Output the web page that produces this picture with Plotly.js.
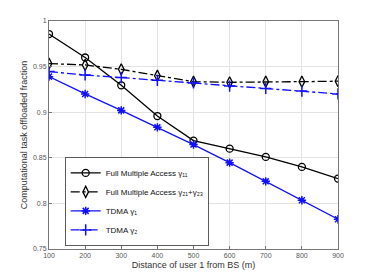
<!DOCTYPE html>
<html><head><meta charset="utf-8">
<script src="https://cdn.plot.ly/plotly-3.0.1.min.js"></script>
<style>body{margin:0;padding:0;background:#fff}#c{width:374px;height:280px}</style>
</head><body><div id="c"></div>
<script>
const distance = [100,200,300,400,500,600,700,800,900];
const fmaGamma11 = [0.9857,0.960,0.9295,0.8958,0.8688,0.860,0.851,0.840,0.8272];
const fmaGamma21_23 = [0.9533,0.9518,0.947,0.940,0.9335,0.9328,0.9335,0.9335,0.934];
const tdmaGamma1 = [0.939,0.920,0.902,0.8834,0.8645,0.8447,0.8242,0.8034,0.7826];
const tdmaGamma2 = [0.9445,0.9408,0.938,0.935,0.932,0.9287,0.926,0.9232,0.920];
const xTicks = [100,200,300,400,500,600,700,800,900];
const yTicks = [0.75,0.8,0.85,0.9,0.95,1];
const yTickText = ['0.75','0.8','0.85','0.9','0.95','1'];
const names = ['Full Multiple Access γ₁₁','Full Multiple Access γ₂₁+γ₂₃','TDMA γ₁','TDMA γ₂'];

const traces = [
  {x:distance,y:fmaGamma11,name:names[0],mode:'lines+markers',line:{color:'#000',width:1.3},marker:{symbol:'circle-open',size:7,color:'#000',line:{width:1.3}}},
  {x:distance,y:fmaGamma21_23,name:names[1],mode:'lines+markers',line:{color:'#000',width:1.3,dash:'dashdot'},marker:{symbol:'diamond-tall-open',size:8,color:'#000',line:{width:1.3}}},
  {x:distance,y:tdmaGamma1,name:names[2],mode:'lines+markers',line:{color:'#1010ff',width:1.3},marker:{symbol:'asterisk-open',size:7,color:'#1010ff',line:{width:1.5,color:'#1010ff'}}},
  {x:distance,y:tdmaGamma2,name:names[3],mode:'lines+markers',line:{color:'#1010ff',width:1.3,dash:'dashdot'},marker:{symbol:'cross-thin-open',size:8,color:'#1010ff',line:{width:1.5,color:'#1010ff'}}}
];
const ax = {showline:true,mirror:true,linecolor:'#777',linewidth:1,gridcolor:'#e3e3e3',ticks:'inside',ticklen:3,tickcolor:'#777',zeroline:false,tickfont:{family:'Liberation Sans, Arial',size:7,color:'#555'}};
const layout = {
  width:374,height:280,margin:{l:49,r:36,t:21,b:31},
  paper_bgcolor:'#fff',plot_bgcolor:'#fff',showlegend:true,
  font:{family:'Liberation Sans, Arial',color:'#333'},
  xaxis:Object.assign({},ax,{range:[100,900],tickvals:xTicks,title:{text:'Distance of user 1 from BS (m)',font:{size:9,color:'#333'},standoff:3}}),
  yaxis:Object.assign({},ax,{range:[0.75,1],tickvals:yTicks,ticktext:yTickText,title:{text:'Computational task offloaded fraction',font:{size:9,color:'#333'},standoff:3}}),
  legend:{x:0.055,y:0.015,xanchor:'left',yanchor:'bottom',bgcolor:'#fff',bordercolor:'#333',borderwidth:0.8,font:{size:8,color:'#111'},tracegroupgap:0,itemwidth:30}
};
Plotly.newPlot('c',traces,layout,{displayModeBar:false,staticPlot:true});
</script></body></html>
